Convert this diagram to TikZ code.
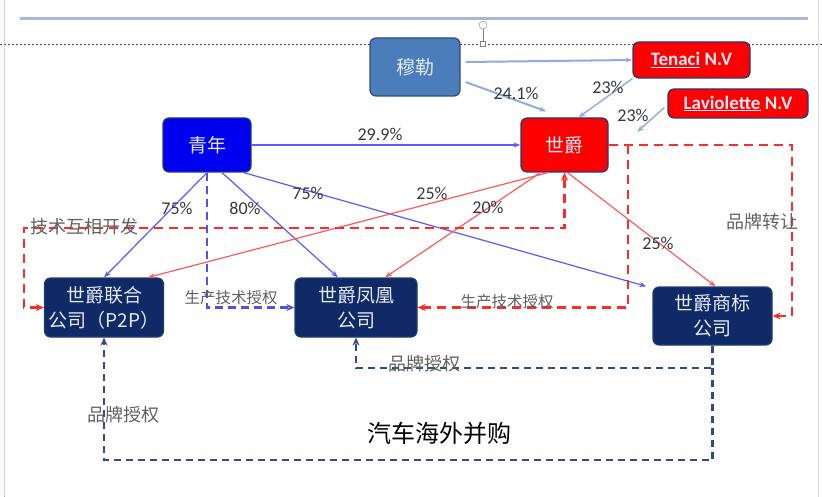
\documentclass[tikz,border=0pt]{standalone}
\usepackage{fontspec}
\setmainfont{Noto Sans CJK SC}
\newfontfamily\calibri{Carlito}
\usetikzlibrary{arrows.meta}

\definecolor{muleblue}{HTML}{4A7DBA}
\definecolor{mulerim}{HTML}{2C4D75}
\definecolor{spyred}{HTML}{FF0000}
\definecolor{youthblue}{HTML}{0000F0}
\definecolor{deepnavy}{HTML}{0F2A66}
\definecolor{navyrim}{HTML}{243B70}
\definecolor{nodetext}{HTML}{E4EAF4}
\definecolor{paleline}{HTML}{8FAADC}
\definecolor{blueline}{HTML}{5A5AFF}
\definecolor{redline}{HTML}{FF5A5A}
\definecolor{reddash}{HTML}{FF2A2A}
\definecolor{navydash}{HTML}{2E4A8A}
\definecolor{framebar}{HTML}{A7B8DA}

\tikzset{
	redrun/.style={draw=reddash,line width=2.6pt,dash pattern=on 9pt off 6pt},
	bluerun/.style={draw=blueline!90!black,line width=2.2pt,dash pattern=on 8pt off 5pt},
	navyrun/.style={draw=navydash,line width=2.6pt,dash pattern=on 7pt off 5pt},
	pct/.style={text=black!78,font=\calibri\fontsize{18}{20}\selectfont},
	deal/.style={text=black!62,font=\fontsize{#1}{#1}\selectfont},
	deal/.default=18
}

\begin{document}
\begin{tikzpicture}[x=1pt,y=-1pt]
		\useasboundingbox (0,0) rectangle (822,497);

		% frame of the slide
		\draw[gray!60,densely dotted,line width=1pt] (4,0) -- (4,497);
		\draw[gray!25,line width=1pt] (818,0) -- (818,497);
		\draw[framebar,line width=3pt] (20,19) -- (808,19);
		\draw[black!70,dash pattern=on 2pt off 2pt,line width=0.6pt] (0,44) -- (822,44);
		\draw[gray] (483,29) -- (483,42);
		\node[circle,draw=gray,inner sep=0pt,minimum size=8pt] (rot) at (483,25) {};
		\node[draw=gray,fill=white,inner sep=0pt,minimum size=5pt] (grip) at (483,44) {};

		\begin{scope}[every node/.style={rounded corners=6pt,line width=1.2pt,inner sep=0pt,align=center,
					  text=nodetext,font=\fontsize{19}{25}\selectfont}]
			\node[fill=muleblue,draw=mulerim,minimum width=90pt,minimum height=58pt] (mule) at (415,67) {穆勒};
			\node[fill=spyred,draw=navyrim,minimum width=117pt,minimum height=36pt,
				  font=\calibri\bfseries\fontsize{19}{22}\selectfont] (tenaci) at (691.5,60) {\underline{Tenaci} N.V};
			\node[fill=spyred,draw=navyrim,minimum width=140pt,minimum height=29pt,
				  font=\calibri\bfseries\fontsize{19}{22}\selectfont] (lavio) at (738,103.5) {\underline{Laviolette} N.V};
			\node[fill=youthblue,draw=navyrim,minimum width=88pt,minimum height=54pt] (youth) at (207,145) {青年};
			\node[fill=spyred,draw=navyrim,minimum width=87pt,minimum height=54pt] (spyker) at (564.5,145) {世爵};
			\node[fill=deepnavy,draw=navyrim,minimum width=119pt,minimum height=59pt] (union) at (104,307.5) {世爵联合\\公司（P2P）};
			\node[fill=deepnavy,draw=navyrim,minimum width=122pt,minimum height=59pt] (phoenix) at (356,307.5) {世爵凤凰\\公司};
			\node[fill=deepnavy,draw=navyrim,minimum width=119pt,minimum height=58pt] (brand) at (712.5,316) {世爵商标\\公司};
		\end{scope}

		\coordinate (lavtip) at (637,132);
		\coordinate (techco) at (24,228);
		\coordinate (brandrun) at (792,145);
		\coordinate (techrun) at (628,145);
		\coordinate (split) at (712.5,368);
		\coordinate (base) at (0,460);

		\begin{scope}[>={Stealth[length=7pt,width=5pt]},
					  every edge/.style={draw}]
			\path [->,paleline,line width=2pt] ([xshift=5pt,yshift=5pt]mule.east) edge (tenaci.west);
			\path [->,paleline,line width=2pt] ([xshift=5pt,yshift=-15pt]mule.east) edge ([xshift=-18pt,yshift=6pt]spyker.north);
			\path [->,paleline,line width=1.4pt] (tenaci.south west) edge ([xshift=14pt]spyker.north);
			\path [->,paleline,line width=1.4pt] ([xshift=-3pt,yshift=-4pt]lavio.west) edge (lavtip);

			\path [->,blueline,line width=1.4pt] (youth.east) edge (spyker.west);
			\path [->,blueline,line width=1.2pt] (youth.south) edge (union.north);
			\path [->,blueline,line width=1.2pt] ([xshift=15pt]youth.south) edge ([xshift=-18pt]phoenix.north);
			\path [->,blueline,line width=1.2pt] ([xshift=-8pt]youth.south east) edge ([xshift=-6pt]brand.north west);

			\path [->,redline,line width=1.2pt] ([xshift=-16.5pt]spyker.south) edge ([xshift=-16pt]union.north east);
			\path [->,redline,line width=1.2pt] ([xshift=-24pt]spyker.south) edge ([xshift=29pt]phoenix.north);
			\path [->,redline,line width=1.2pt] ([xshift=3pt]spyker.south) edge ([xshift=3pt]brand.north);
		\end{scope}

		\begin{scope}[>={Stealth[length=8pt,width=7pt]}]
			\draw[redrun,<->] (union.west) -- (union.west -| techco) -- (techco) -| (spyker.south);
			\draw[redrun,->] (spyker.east) -- (brandrun) |- (brand.east);
			\draw[redrun,->] (techrun) -- (techrun |- phoenix.east) -- (phoenix.east);
			\draw[bluerun,->] (youth.south) -- (youth.south |- phoenix.west) -- (phoenix.west);
			\draw[navyrun,->] (brand.south) -- (split) -| (phoenix.south);
			\draw[navyrun,->] (split) -- (split |- base) -| (union.south);
		\end{scope}

		% shares
		\node[pct] (s241) at (516,93) {24.1\%};
		\node[pct] (s23a) at (608,87) {23\%};
		\node[pct] (s23b) at (633,115) {23\%};
		\node[pct] (s299) at (380,134) {29.9\%};
		\node[pct] (s75a) at (177,208) {75\%};
		\node[pct] (s80) at (245,208) {80\%};
		\node[pct] (s75b) at (308,193) {75\%};
		\node[pct] (s25a) at (432,193) {25\%};
		\node[pct] (s20) at (488,207) {20\%};
		\node[pct] (s25b) at (658,243) {25\%};

		% deals
		\node[deal] (dev) at (84,227) {技术互相开发};
		\node[deal] (handover) at (762,222) {品牌转让};
		\node[deal=15.5] (prodblue) at (231,298) {生产技术授权};
		\node[deal=15.5] (prodred) at (507,302) {生产技术授权};
		\node[deal] (licup) at (424,364) {品牌授权};
		\node[deal] (liclow) at (123,415) {品牌授权};
		\node[text=black,font=\fontsize{24}{26}\selectfont] (title) at (439,433) {汽车海外并购};
\end{tikzpicture}
\end{document}
